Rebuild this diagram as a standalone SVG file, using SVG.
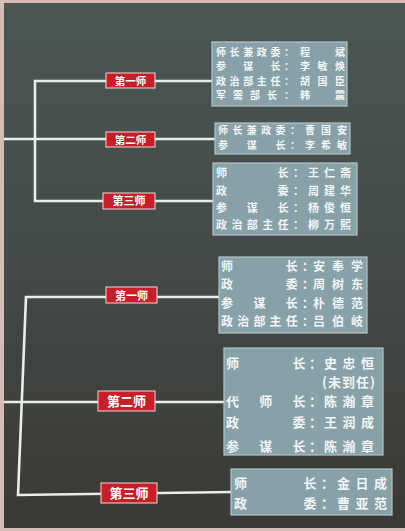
<svg xmlns="http://www.w3.org/2000/svg" width="405" height="531" viewBox="0 0 405 531">
<defs>
<linearGradient id="bg" x1="0" y1="0" x2="0" y2="1">
<stop offset="0" stop-color="#4b5755"/>
<stop offset="0.5" stop-color="#434a47"/>
<stop offset="1" stop-color="#3b3934"/>
</linearGradient>
</defs>
<style>
.conn{fill:none;stroke:#e9eeec;stroke-width:2.6;stroke-linejoin:miter}
.tag rect{fill:#c61f2a;stroke:#f1d6d6;stroke-width:1}
.tag text{fill:#ffffff;font-family:"Noto Sans CJK SC",sans-serif;font-weight:700;text-anchor:middle}
.box rect{fill:#88a0a8;stroke:#b3c5ca;stroke-width:1.2}
.box text{fill:#f2f6f7;font-family:"Noto Sans CJK SC",sans-serif;font-weight:700}
.s10{font-size:10px}.s11{font-size:11px}.s12{font-size:12px}.s13{font-size:13px}
</style>
<rect x="0" y="0" width="405" height="531" fill="#d5bdb6"/>
<rect x="4" y="3" width="401" height="525" fill="url(#bg)"/>
<g id="connectors">
<path class="conn" d="M4,139 H215"/>
<path class="conn" d="M212,81 H35 V201 H215"/>
<path class="conn" d="M4,402 H225"/>
<path class="conn" d="M222,297 H26 L18,495 L232,492"/>
</g>
<g id="tag-1-1" class="tag"><rect x="106" y="73" width="49" height="15"/><text x="130.5" y="84.5" font-size="10.5">第一师</text></g>
<g id="tag-1-2" class="tag"><rect x="106" y="132" width="49" height="15"/><text x="130.5" y="143.5" font-size="10.5">第二师</text></g>
<g id="tag-1-3" class="tag"><rect x="103" y="193" width="52" height="16"/><text x="129" y="205" font-size="11">第三师</text></g>
<g id="tag-2-1" class="tag"><rect x="106" y="287" width="51" height="16"/><text x="131.5" y="299.5" font-size="11">第一师</text></g>
<g id="tag-2-2" class="tag"><rect x="98" y="391" width="57" height="20"/><text x="126.5" y="405.5" font-size="13">第二师</text></g>
<g id="tag-2-3" class="tag"><rect x="101" y="483" width="56" height="20"/><text x="129" y="497.5" font-size="13">第三师</text></g>
<g id="box-1-1" class="box s10">
<rect x="212" y="42" width="135" height="64"/>
<text x="216" y="55.5" textLength="78" lengthAdjust="spacing">师长兼政委：</text><text x="300" y="55.5" textLength="45" lengthAdjust="spacing">程　斌</text>
<text x="216" y="70" textLength="78" lengthAdjust="spacing">参　谋　长：</text><text x="300" y="70" textLength="45" lengthAdjust="spacing">李敏焕</text>
<text x="216" y="84.5" textLength="78" lengthAdjust="spacing">政治部主任：</text><text x="300" y="84.5" textLength="45" lengthAdjust="spacing">胡国臣</text>
<text x="216" y="99" textLength="78" lengthAdjust="spacing">军需部长：</text><text x="300" y="99" textLength="45" lengthAdjust="spacing">韩　震</text>
</g>
<g id="box-1-2" class="box s10">
<rect x="215" y="123" width="135" height="31"/>
<text x="218" y="133.5" textLength="82" lengthAdjust="spacing">师长兼政委：</text><text x="305" y="133.5" textLength="42" lengthAdjust="spacing">曹国安</text>
<text x="218" y="148.5" textLength="82" lengthAdjust="spacing">参　谋　长：</text><text x="305" y="148.5" textLength="42" lengthAdjust="spacing">李希敏</text>
</g>
<g id="box-1-3" class="box s11">
<rect x="213" y="163" width="144" height="72"/>
<text x="216" y="177" textLength="88" lengthAdjust="spacing">师　　　长：</text><text x="308" y="177" textLength="43" lengthAdjust="spacing">王仁斋</text>
<text x="216" y="195" textLength="88" lengthAdjust="spacing">政　　　委：</text><text x="308" y="195" textLength="43" lengthAdjust="spacing">周建华</text>
<text x="216" y="212" textLength="88" lengthAdjust="spacing">参　谋　长：</text><text x="308" y="212" textLength="43" lengthAdjust="spacing">杨俊恒</text>
<text x="216" y="229" textLength="88" lengthAdjust="spacing">政治部主任：</text><text x="308" y="229" textLength="43" lengthAdjust="spacing">柳万熙</text>
</g>
<g id="box-2-1" class="box s12">
<rect x="219" y="257" width="148" height="76"/>
<text x="221" y="270.5" textLength="93" lengthAdjust="spacing">师　　　长：</text><text x="313" y="270.5" textLength="50" lengthAdjust="spacing">安奉学</text>
<text x="221" y="289" textLength="93" lengthAdjust="spacing">政　　　委：</text><text x="313" y="289" textLength="50" lengthAdjust="spacing">周树东</text>
<text x="221" y="307.5" textLength="93" lengthAdjust="spacing">参　谋　长：</text><text x="313" y="307.5" textLength="50" lengthAdjust="spacing">朴德范</text>
<text x="221" y="326" textLength="93" lengthAdjust="spacing">政治部主任：</text><text x="313" y="326" textLength="50" lengthAdjust="spacing">吕伯岐</text>
</g>
<g id="box-2-2" class="box s13">
<rect x="224" y="348" width="159" height="107"/>
<text x="226" y="367.5" textLength="96" lengthAdjust="spacing">师　　　长：</text><text x="324" y="367.5" textLength="50" lengthAdjust="spacing">史忠恒</text>
<text x="322" y="386.5" textLength="53" lengthAdjust="spacing">(未到任)</text>
<text x="226" y="405.5" textLength="96" lengthAdjust="spacing">代　师　长：</text><text x="324" y="405.5" textLength="50" lengthAdjust="spacing">陈瀚章</text>
<text x="226" y="426.5" textLength="96" lengthAdjust="spacing">政　　　委：</text><text x="324" y="426.5" textLength="50" lengthAdjust="spacing">王润成</text>
<text x="226" y="450.5" textLength="96" lengthAdjust="spacing">参　谋　长：</text><text x="324" y="450.5" textLength="50" lengthAdjust="spacing">陈瀚章</text>
</g>
<g id="box-2-3" class="box s13">
<rect x="231" y="469" width="161" height="46"/>
<text x="234" y="488" textLength="100" lengthAdjust="spacing">师　　　长：</text><text x="337" y="488" textLength="50" lengthAdjust="spacing">金日成</text>
<text x="234" y="508" textLength="100" lengthAdjust="spacing">政　　　委：</text><text x="337" y="508" textLength="50" lengthAdjust="spacing">曹亚范</text>
</g>
</svg>
